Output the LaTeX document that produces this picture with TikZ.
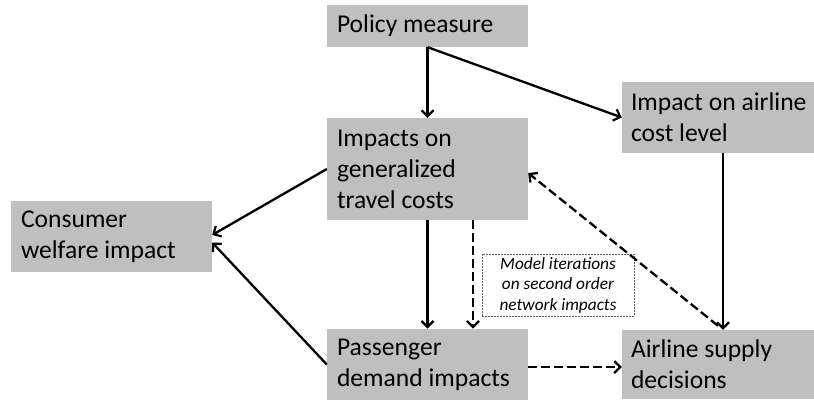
\documentclass[tikz,border=0pt]{standalone}
\usepackage{fontspec}
\setmainfont{Carlito}
\usetikzlibrary{arrows.meta}
\hyphenpenalty=10000
\exhyphenpenalty=10000
\definecolor{boxgray}{RGB}{191,191,191}
\tikzset{
  box/.style={fill=boxgray, draw=none, inner sep=10pt, align=flush left, anchor=center,
    font=\fontsize{25.6}{31}\selectfont},
  arr/.style={line width=2.3pt, -{Straight Barb[length=6pt,width=12pt,line width=2.2pt]}},
  darr/.style={arr, dash pattern=on 9pt off 4pt},
  notebox/.style={draw=black!60, line width=0.8pt, dash pattern=on 2pt off 1pt, fill=white,
    align=center, font=\fontsize{17.3}{20.5}\selectfont\itshape, inner sep=2pt}
}
\begin{document}
\begin{tikzpicture}[x=1pt,y=-1pt]
\useasboundingbox (0,0) rectangle (814,399);
\node[box, minimum width=201pt, minimum height=40pt, text width=181pt] (pm) at (427.5,26) {Policy measure};
\node[box, minimum width=201pt, minimum height=102pt, text width=181pt] (imp) at (427.5,169) {Impacts on\\generalized\\travel costs};
\node[box, minimum width=192pt, minimum height=71pt, text width=178pt, inner xsep=7pt] (cost) at (718,117.5) {\hspace*{2pt}Impact on airline\\\hspace*{2pt}cost level};
\node[box, minimum width=201pt, minimum height=71pt, text width=181pt] (cons) at (111.5,236.5) {Consumer\\welfare impact};
\node[box, minimum width=201pt, minimum height=69pt, text width=181pt] (pass) at (427.5,364.5) {Passenger\\demand impacts};
\node[box, minimum width=192pt, minimum height=69pt, text width=178pt, inner xsep=7pt] (sup) at (718,364.5) {\hspace*{2pt}Airline supply\\\hspace*{2pt}decisions};
\node[notebox, minimum width=152pt, minimum height=62pt] (note) at (558,285) {Model iterations\\on second order\\network impacts};

\draw[arr] (pm.south) -- (imp.north);
\draw[arr] (pm.south) -- (cost.west);
\draw[arr] (imp.west) -- ([yshift=1.5pt]cons.east);
\draw[arr] (pass.west) -- ([yshift=-6pt]cons.east);
\draw[arr] (imp.south) -- (pass.north);
\draw[darr] ([xshift=45.5pt]imp.south) -- ([xshift=45.5pt]pass.north);
\draw[darr] ([yshift=-2.5pt]pass.east) -- ([yshift=-2.5pt]sup.west);
\draw[arr] ([xshift=5pt]cost.south) -- ([xshift=5pt]sup.north);
\draw[darr] ([yshift=4pt]sup.north) -- ([yshift=-4pt]imp.east);
\end{tikzpicture}
\end{document}
